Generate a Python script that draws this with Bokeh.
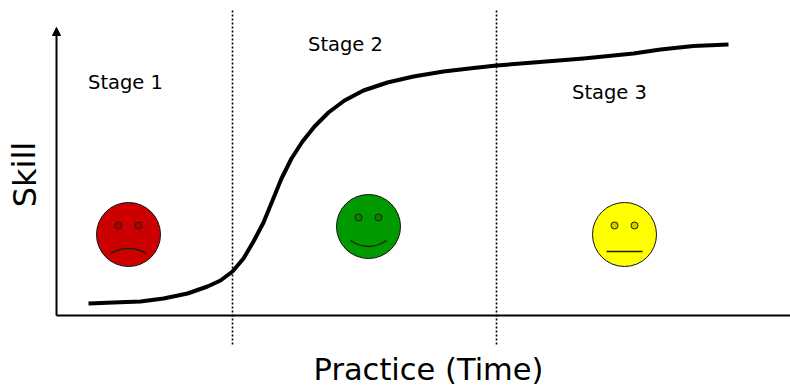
from bokeh.plotting import figure
from bokeh.models import Range1d, Arrow, NormalHead
from bokeh.core.properties import value
from bokeh.embed import file_html
from bokeh.resources import INLINE

FONT = "DejaVu Sans"

# curve
curve_x = [88,113,140,163,187,207,220,232,243,253,263,272,281,291,302,314,328,344,363,387,413,443,473,496,533,583,633,660,693,728]
curve_y = [303,302,301,298,293,286,280,271,258,241,222,200,178,158,141,126,112,100,90,82,76,71,67.5,65,62,58,53,49,45.5,44]

stage_labels = ["Stage 1", "Stage 2", "Stage 3"]
stage_x = [125, 345, 609]
stage_y = [82, 44, 92]

boundaries = [232, 496]
face_x = [128, 368, 624]
face_y = [234, 226, 234]
face_colors = ["#cc0000", "#009900", "#ffff00"]
eye_colors = ["#b00000", "#0b8000", "#d0d000"]
mouth_y = [253, 240, 251]
mouth_bend = [-5, 6, 0]

W, H = 790, 388
p = figure(width=W, height=H, output_backend="svg", toolbar_location=None,
           x_range=Range1d(0, W), y_range=Range1d(H, 0),
           min_border=0, outline_line_color=None)
p.axis.visible = False
p.grid.visible = False

# axes
p.segment([56], [315], [790], [315], line_color="black", line_width=2)
p.add_layout(Arrow(x_start=56, y_start=315, x_end=56, y_end=27, line_color="black", line_width=2,
                   end=NormalHead(size=8, fill_color="black", line_color="black")))

# stage boundaries
p.segment(boundaries, [10, 10], boundaries, [344, 344], line_color="black", line_width=1.6, line_dash="2 2")

# learning curve
p.line(curve_x, curve_y, line_color="black", line_width=4, line_join="round")

# faces
p.scatter(face_x, face_y, marker="circle", size=64, fill_color=face_colors, line_color="#111111", line_width=1)
eye_x, eye_y, eye_c = [], [], []
for x, y, c in zip(face_x, face_y, eye_colors):
    eye_x += [x - 10, x + 10]
    eye_y += [y - 9, y - 9]
    eye_c += [c, c]
p.scatter(eye_x, eye_y, marker="circle", size=7, fill_color=eye_c, line_color="#222200", line_width=1)
x0 = [x - 18 for x in face_x]
x1 = [x + 18 for x in face_x]
cy = [m + 2 * b for m, b in zip(mouth_y, mouth_bend)]
p.quadratic(x0=x0, y0=mouth_y, x1=x1, y1=mouth_y, cx=face_x, cy=cy, line_color="#222200", line_width=1.5)

# texts
p.text(stage_x, stage_y, text=stage_labels, text_font=value(FONT), text_font_size="19.5px",
       text_align="center", text_baseline="middle", text_color="black")
p.text([428], [369], text=["Practice (Time)"], text_font=value(FONT), text_font_size="30.5px",
       text_align="center", text_baseline="middle", text_color="black")
p.text([24], [174], text=["Skill"], text_font=value(FONT), text_font_size="32px", angle=1.5708,
       text_align="center", text_baseline="middle", text_color="black")

open("out.html", "w").write(file_html(p, INLINE))
